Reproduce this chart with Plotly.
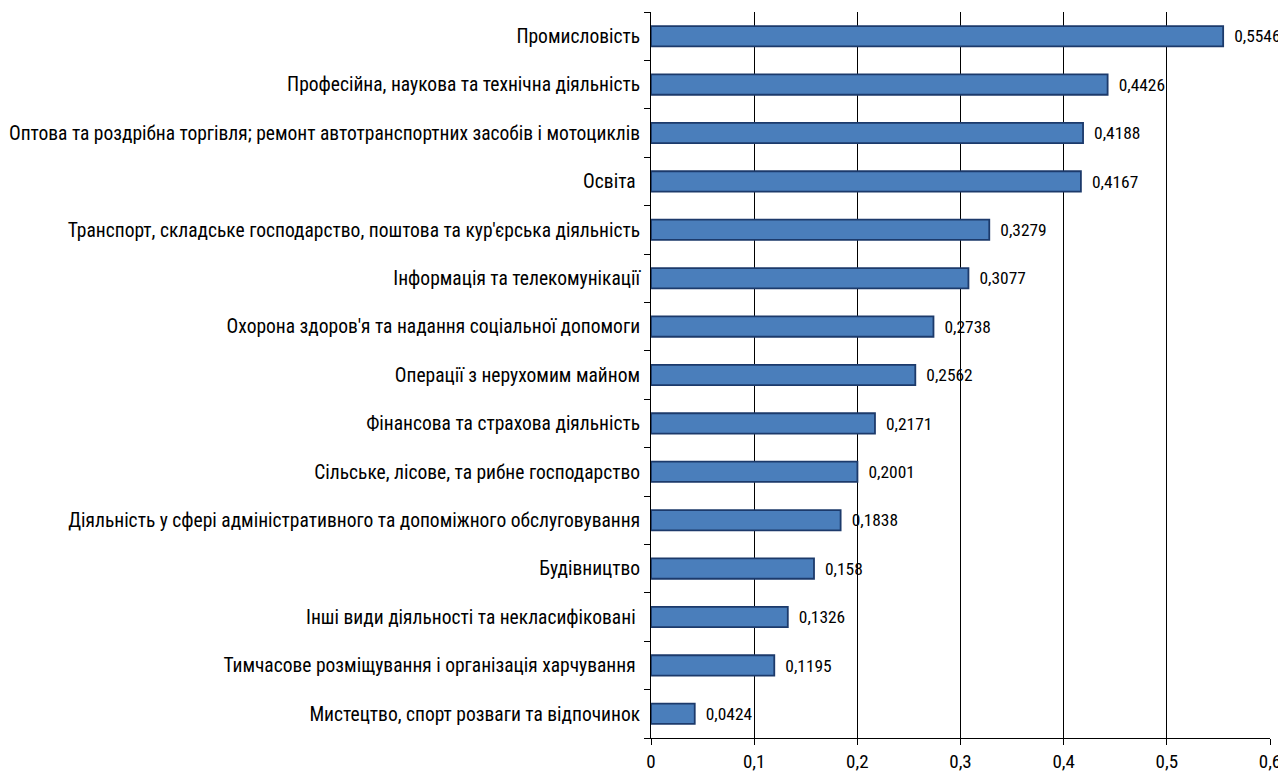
import plotly.graph_objects as go

categories = [
    "Промисловість",
    "Професійна, наукова та технічна діяльність",
    "Оптова та роздрібна торгівля; ремонт автотранспортних засобів і мотоциклів",
    "Освіта ",
    "Транспорт, складське господарство, поштова та кур'єрська діяльність",
    "Інформація та телекомунікації",
    "Охорона здоров'я та надання соціальної допомоги",
    "Операції з нерухомим майном",
    "Фінансова та страхова діяльність",
    "Сільське, лісове, та рибне господарство",
    "Діяльність у сфері адміністративного та допоміжного обслуговування",
    "Будівництво",
    "Інші види діяльності та некласифіковані ",
    "Тимчасове розміщування і організація харчування ",
    "Мистецтво, спорт розваги та відпочинок",
]
values = [0.5546, 0.4426, 0.4188, 0.4167, 0.3279, 0.3077, 0.2738, 0.2562,
          0.2171, 0.2001, 0.1838, 0.158, 0.1326, 0.1195, 0.0424]
tick_vals = [0, 0.1, 0.2, 0.3, 0.4, 0.5, 0.6]
tick_text = ["0", "0,1", "0,2", "0,3", "0,4", "0,5", "0,6"]

labels = ["\u00a0\u00a0" + str(v).replace(".", ",") for v in values]

FONT = "Roboto Condensed, Liberation Sans Narrow, sans-serif"

fig = go.Figure(go.Bar(
    y=categories[::-1],
    x=values[::-1],
    orientation="h",
    text=labels[::-1],
    textposition="outside",
    cliponaxis=False,
    textfont=dict(family=FONT, size=18, color="#000000"),
    marker=dict(color="#4A7EBB", line=dict(color="#1C3A6B", width=1.8)),
))

fig.update_layout(
    width=1278, height=765,
    margin=dict(l=643, r=16, t=4, b=35),
    paper_bgcolor="white", plot_bgcolor="white",
    separators=", ",
    bargap=0.58,
    showlegend=False,
    font=dict(family=FONT, size=19.5, color="#000000"),
)
fig.update_xaxes(
    range=[0, 0.6], tickvals=tick_vals, ticktext=tick_text,
    automargin=False,
    showgrid=True, gridcolor="#000000", gridwidth=1,
    showline=True, linecolor="#000000", linewidth=1,
    ticks="outside", ticklen=6, tickcolor="#000000",
    tickfont=dict(family=FONT, size=19),
    zeroline=False,
)
fig.update_yaxes(
    automargin=False,
    showline=True, linecolor="#000000", linewidth=1,
    ticks="outside", ticklen=6, tickcolor="#000000",
    tickson="boundaries", ticklabelstandoff=6,
    tickfont=dict(family=FONT, size=19.5),
    showgrid=False,
)

fig.write_html("out.html")
